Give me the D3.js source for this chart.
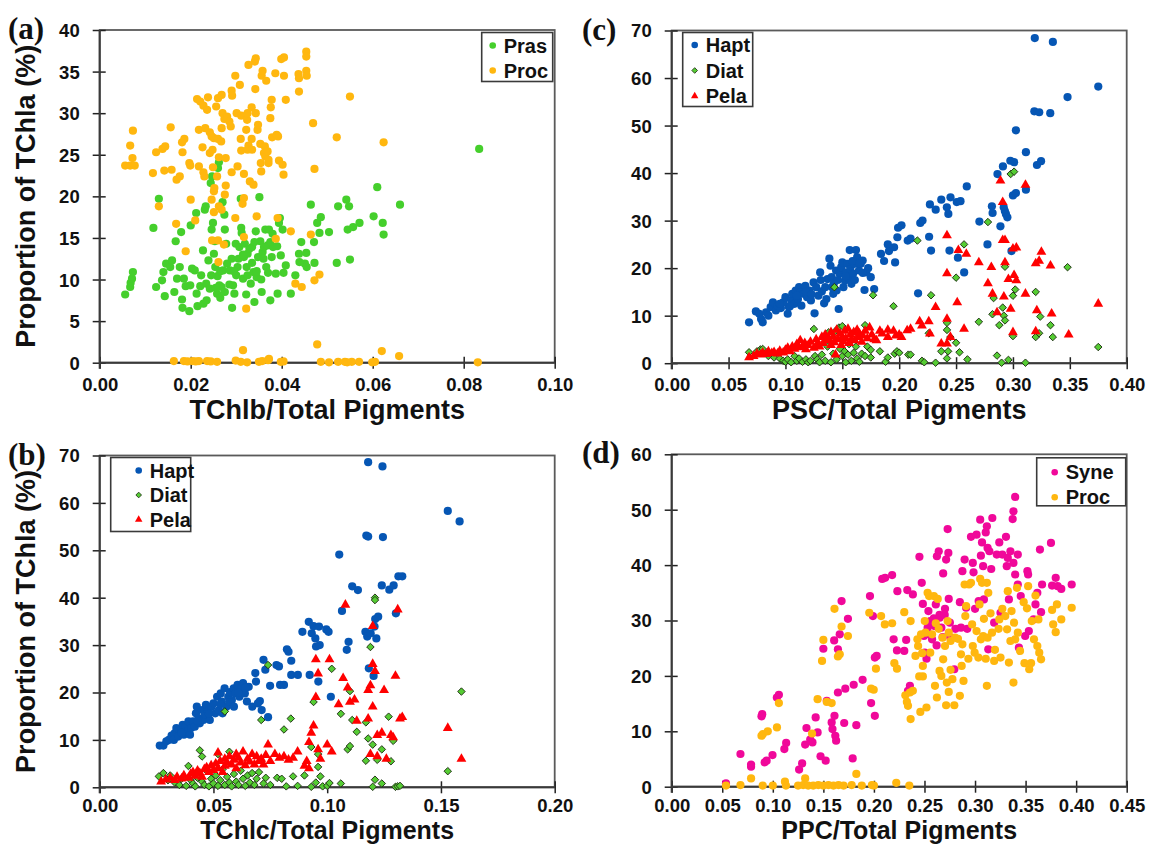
<!DOCTYPE html>
<html><head><meta charset="utf-8">
<script src="https://cdn.jsdelivr.net/npm/d3@7"></script>
<style>
body{margin:0;background:#fff;}
svg{display:block;}
text{font-family:"Liberation Sans",Arial,sans-serif;font-weight:bold;fill:#111;}
</style></head><body>
<svg id="c" width="1149" height="847"></svg>
<script>
// ---------------- DATA ----------------
// Panel (a): TChlb/Total Pigments vs Proportion of TChla (%)
const aPras = [[0.0056,8.2],[0.0067,9.1],[0.0068,9.6],[0.0071,10.1],[0.0073,10.9],[0.0118,16.2],[0.0124,9.1],[0.013,19.7],[0.0137,9.9],[0.014,10.9],[0.0143,8.0],[0.0146,11.9],[0.0155,11.5],[0.0159,12.3],[0.0164,8.5],[0.0167,14.6],[0.017,10.1],[0.0176,11.5],[0.0179,15.7],[0.0181,7.6],[0.0182,6.6],[0.0185,10.1],[0.0189,9.2],[0.0197,6.2],[0.0199,9.3],[0.02,16.5],[0.0203,11.3],[0.0209,11.1],[0.0212,18.0],[0.0213,8.3],[0.0215,6.8],[0.0221,9.2],[0.0223,10.5],[0.0227,13.5],[0.0228,7.1],[0.0231,18.4],[0.0233,18.8],[0.0234,9.5],[0.0239,12.3],[0.0242,8.9],[0.0244,21.6],[0.0247,22.4],[0.0246,16.0],[0.0249,16.8],[0.0251,13.1],[0.0253,14.6],[0.0254,11.5],[0.0258,8.3],[0.0259,10.4],[0.0262,24.1],[0.026,23.4],[0.0263,9.3],[0.0265,7.8],[0.0268,9.1],[0.027,19.3],[0.0271,11.1],[0.0274,17.8],[0.0275,16.0],[0.0278,14.3],[0.028,11.9],[0.0286,11.1],[0.029,12.5],[0.0291,6.6],[0.0293,9.3],[0.0296,8.3],[0.0299,14.3],[0.0303,11.5],[0.0307,13.9],[0.031,19.7],[0.0311,16.2],[0.0312,15.6],[0.0315,10.1],[0.0317,12.7],[0.0319,14.3],[0.0322,8.2],[0.0323,11.5],[0.0325,13.1],[0.0329,13.7],[0.0332,9.5],[0.0335,13.9],[0.0338,10.9],[0.034,7.3],[0.0343,15.8],[0.0345,10.3],[0.0348,12.7],[0.0351,19.9],[0.0353,14.6],[0.0356,8.5],[0.0358,13.3],[0.0361,13.9],[0.0364,16.0],[0.0366,11.5],[0.0369,14.1],[0.0372,16.0],[0.0375,7.5],[0.0378,12.7],[0.0381,13.9],[0.0387,10.7],[0.0391,8.3],[0.0394,16.8],[0.0396,17.4],[0.0398,12.9],[0.0402,16.0],[0.0404,10.8],[0.0409,11.7],[0.042,8.3],[0.043,10.5],[0.0438,13.1],[0.0439,12.1],[0.0443,14.5],[0.0451,11.9],[0.0454,13.2],[0.0455,11.5],[0.0464,19.0],[0.0471,14.5],[0.0472,12.0],[0.0478,16.8],[0.0486,17.5],[0.0483,15.6],[0.0504,15.7],[0.0521,12.0],[0.0524,18.8],[0.0542,19.6],[0.0545,16.0],[0.0548,18.8],[0.055,12.4],[0.0557,16.3],[0.0571,16.8],[0.0602,17.6],[0.061,21.1],[0.0622,16.8],[0.0624,15.4],[0.066,19.0],[0.0834,25.7],[0.0285,9.4],[0.0305,12.5],[0.0315,13.0],[0.0335,12.0],[0.0345,11.0],[0.0355,10.0],[0.036,12.5],[0.0375,14.5],[0.0255,9.0],[0.0275,8.5],[0.0245,10.5],[0.0235,7.5],[0.03,10.5],[0.0325,10.5],[0.034,14.5],[0.037,10.8],[0.038,15.5],[0.039,14.0],[0.0265,11.0],[0.0295,11.0]];
const aProc = [[0.0056,23.7],[0.0067,23.7],[0.0077,23.7],[0.0067,26.1],[0.0072,24.6],[0.0073,27.9],[0.0117,22.8],[0.0124,25.3],[0.013,18.8],[0.0138,25.7],[0.0144,26.0],[0.0142,23.1],[0.0158,23.2],[0.0156,28.3],[0.0169,22.0],[0.0176,22.4],[0.0168,16.7],[0.0181,26.5],[0.0186,26.9],[0.0182,25.3],[0.0189,13.4],[0.0197,24.0],[0.0199,23.7],[0.02,19.6],[0.021,17.1],[0.0214,31.7],[0.0221,31.4],[0.0228,30.9],[0.0218,28.0],[0.0226,25.9],[0.0228,22.9],[0.023,22.4],[0.0218,23.6],[0.0232,28.2],[0.0238,31.9],[0.0236,30.4],[0.0242,27.7],[0.0246,27.2],[0.0242,25.2],[0.0248,25.6],[0.0251,27.0],[0.0249,23.5],[0.0246,19.6],[0.0251,20.6],[0.0252,21.0],[0.0247,14.7],[0.0251,18.1],[0.0256,30.8],[0.026,31.8],[0.0268,32.2],[0.026,26.9],[0.0267,26.6],[0.0262,24.7],[0.0258,22.4],[0.0262,18.8],[0.0268,18.4],[0.027,30.0],[0.0274,29.3],[0.0268,28.2],[0.0277,24.6],[0.0277,21.3],[0.0275,20.2],[0.0273,14.2],[0.026,14.7],[0.0261,12.1],[0.028,29.6],[0.0285,29.0],[0.0288,28.4],[0.029,32.7],[0.0291,32.1],[0.029,22.9],[0.0298,34.5],[0.0298,17.4],[0.0303,23.6],[0.0301,30.0],[0.0308,33.4],[0.031,26.9],[0.0311,25.5],[0.0311,29.7],[0.0314,19.1],[0.0317,19.8],[0.0317,22.7],[0.0317,15.1],[0.0324,29.2],[0.0322,28.0],[0.0325,30.0],[0.0327,26.1],[0.0325,25.6],[0.0322,6.5],[0.0327,35.8],[0.0334,30.7],[0.0334,26.9],[0.033,21.8],[0.0338,21.4],[0.0335,25.6],[0.0341,36.2],[0.0343,36.6],[0.0342,32.9],[0.0343,30.0],[0.0347,28.0],[0.0348,28.6],[0.0345,17.6],[0.0354,24.0],[0.0355,23.0],[0.0356,34.5],[0.0358,35.1],[0.0353,26.3],[0.0363,26.0],[0.0361,25.2],[0.0364,24.8],[0.0366,33.9],[0.0369,25.4],[0.0371,24.0],[0.0371,24.4],[0.0375,29.4],[0.0376,30.7],[0.0378,31.6],[0.0379,27.1],[0.0386,34.8],[0.0389,27.4],[0.0387,14.9],[0.0392,27.2],[0.0391,17.4],[0.0394,24.3],[0.0399,36.5],[0.0405,36.7],[0.0405,34.5],[0.0402,23.8],[0.0404,22.6],[0.0409,31.6],[0.042,15.8],[0.043,9.5],[0.0437,34.7],[0.0438,34.2],[0.0438,32.6],[0.0444,9.1],[0.0454,37.4],[0.0454,36.8],[0.0454,35.1],[0.0455,34.5],[0.0464,15.4],[0.0469,28.8],[0.0472,23.3],[0.0472,9.9],[0.0483,10.6],[0.0521,27.1],[0.055,32.0],[0.0624,26.5],[0.0478,2.2],[0.0315,1.5],[0.062,1.4],[0.0658,0.8],[0.0372,0.45],[0.0163,0.2],[0.0185,0.2],[0.0193,0.15],[0.0204,0.2],[0.0211,0.15],[0.0218,0.2],[0.0236,0.2],[0.0244,0.15],[0.0258,0.1],[0.0299,0.25],[0.031,0.1],[0.0324,0.05],[0.035,0.1],[0.0357,0.2],[0.037,0.3],[0.0398,0.1],[0.0404,0.15],[0.0486,0.1],[0.0504,0.05],[0.0524,0.1],[0.0539,0.1],[0.0544,0.05],[0.0554,0.1],[0.057,0.1],[0.0599,0.05],[0.0605,0.1],[0.0831,0.05]];

// Panel (c): PSC/Total Pigments
const cHapt = [[0.068,8.6],[0.074,10.9],[0.077,10.4],[0.080,8.6],[0.0786,9.3],[0.083,10.7],[0.087,11.8],[0.089,12.8],[0.0916,11.1],[0.093,12.1],[0.096,11.6],[0.098,12.8],[0.100,13.9],[0.102,10.4],[0.103,11.8],[0.105,13.2],[0.106,14.6],[0.108,12.5],[0.109,15.3],[0.111,13.5],[0.112,16.0],[0.113,14.9],[0.114,12.1],[0.116,14.6],[0.1175,16.3],[0.119,13.9],[0.121,15.3],[0.1224,13.2],[0.1247,17.0],[0.1256,10.5],[0.127,16.0],[0.129,14.2],[0.1305,19.1],[0.132,15.1],[0.134,12.6],[0.135,16.0],[0.137,17.7],[0.1386,22.0],[0.1396,20.5],[0.1406,18.1],[0.142,14.6],[0.1425,16.7],[0.1445,19.5],[0.145,15.3],[0.1468,11.4],[0.1477,18.8],[0.149,20.2],[0.15,21.2],[0.151,16.0],[0.1523,17.4],[0.1532,19.1],[0.1542,20.9],[0.1555,17.8],[0.1565,23.8],[0.1571,19.8],[0.158,16.7],[0.1594,18.8],[0.1607,20.9],[0.162,23.8],[0.163,22.3],[0.1646,19.5],[0.1662,20.9],[0.1679,21.6],[0.1695,15.4],[0.171,19.1],[0.1727,20.0],[0.175,18.1],[0.178,15.6],[0.184,23.0],[0.1867,21.5],[0.19,25.0],[0.191,23.6],[0.1955,24.4],[0.1964,21.2],[0.1984,26.5],[0.199,28.5],[0.202,29.0],[0.2075,25.8],[0.21,26.2],[0.2166,14.7],[0.2185,29.5],[0.2205,30.0],[0.2263,26.6],[0.228,23.7],[0.227,33.4],[0.2321,32.3],[0.237,34.4],[0.2419,32.8],[0.2432,31.4],[0.2442,23.7],[0.2451,34.9],[0.2506,33.9],[0.2539,34.1],[0.2516,22.2],[0.2571,19.1],[0.2594,37.2],[0.2705,29.8],[0.2776,25.0],[0.2815,33.0],[0.2821,31.6],[0.2864,39.8],[0.289,28.8],[0.2912,41.4],[0.2919,32.8],[0.2929,32.0],[0.2938,31.4],[0.2951,30.7],[0.2977,42.6],[0.301,42.3],[0.2987,23.6],[0.3,35.3],[0.3026,35.8],[0.3026,49.0],[0.3114,44.4],[0.3114,36.5],[0.3188,53.0],[0.3231,52.8],[0.3211,41.7],[0.3247,42.5],[0.3328,52.6],[0.3192,68.4],[0.3351,67.6],[0.348,56.0],[0.375,58.2],[0.085,10.0],[0.095,12.5],[0.104,12.0],[0.11,14.2],[0.118,15.0],[0.123,14.5],[0.131,17.5],[0.136,13.5],[0.141,16.0],[0.146,17.5],[0.153,18.3],[0.159,21.5],[0.161,17.5],[0.165,21.0],[0.168,19.0]];
const cDiat = [[0.068,2.3],[0.075,2.5],[0.078,2.9],[0.08,3.0],[0.085,1.5],[0.09,1.2],[0.095,1.0],[0.098,0.5],[0.1,0.3],[0.102,0.8],[0.105,0.2],[0.108,1.5],[0.11,0.5],[0.112,1.0],[0.115,0.3],[0.118,0.8],[0.12,0.2],[0.122,0.5],[0.125,7.2],[0.126,1.5],[0.128,0.8],[0.13,0.2],[0.132,1.8],[0.135,0.5],[0.137,3.5],[0.138,6.5],[0.14,0.2],[0.142,2.0],[0.143,16.0],[0.144,6.8],[0.145,0.8],[0.147,7.5],[0.148,3.0],[0.15,1.5],[0.15,7.8],[0.152,2.5],[0.153,0.2],[0.155,1.8],[0.156,4.0],[0.158,0.5],[0.16,2.2],[0.162,3.5],[0.163,1.0],[0.165,0.3],[0.167,2.0],[0.17,1.5],[0.17,8.0],[0.172,3.5],[0.175,1.2],[0.175,2.8],[0.177,14.3],[0.183,2.5],[0.188,0.3],[0.19,1.2],[0.195,12.0],[0.196,2.0],[0.198,2.5],[0.2,2.2],[0.208,1.8],[0.21,1.8],[0.216,25.8],[0.22,0.5],[0.222,0.2],[0.228,14.3],[0.226,6.3],[0.232,0.1],[0.237,2.5],[0.242,8.5],[0.242,7.0],[0.242,1.0],[0.243,2.5],[0.245,5.5],[0.25,18.0],[0.25,4.3],[0.253,2.3],[0.257,25.0],[0.26,0.8],[0.27,8.7],[0.278,29.7],[0.282,10.3],[0.283,13.7],[0.286,1.6],[0.288,8.0],[0.29,0.1],[0.291,11.7],[0.292,10.0],[0.293,9.0],[0.293,20.3],[0.296,0.7],[0.298,39.8],[0.301,40.3],[0.3,14.2],[0.3,5.7],[0.302,15.5],[0.311,0.1],[0.32,15.0],[0.32,5.5],[0.323,6.3],[0.324,9.8],[0.333,8.0],[0.335,5.5],[0.348,20.2],[0.375,3.4]];
const cPela = [[0.068,1.2],[0.072,1.5],[0.075,2.0],[0.078,1.8],[0.08,2.2],[0.083,1.9],[0.085,2.5],[0.088,2.1],[0.09,2.3],[0.093,2.0],[0.095,2.6],[0.098,2.2],[0.10,2.8],[0.102,3.2],[0.104,2.5],[0.106,3.5],[0.108,3.0],[0.11,4.0],[0.112,3.3],[0.113,4.8],[0.115,3.6],[0.117,4.2],[0.118,2.9],[0.12,3.8],[0.122,4.5],[0.125,3.2],[0.127,5.0],[0.128,4.0],[0.13,3.5],[0.132,5.5],[0.133,4.2],[0.135,6.0],[0.136,4.8],[0.138,5.2],[0.14,3.8],[0.14,6.5],[0.142,5.6],[0.143,4.4],[0.144,1.8],[0.145,7.0],[0.146,5.0],[0.148,6.2],[0.149,3.8],[0.15,5.5],[0.151,4.6],[0.152,6.8],[0.153,5.2],[0.155,7.2],[0.156,4.2],[0.157,6.0],[0.158,5.0],[0.16,6.5],[0.161,4.8],[0.163,7.0],[0.164,5.5],[0.165,6.2],[0.167,4.5],[0.168,5.8],[0.17,6.8],[0.172,5.2],[0.174,7.5],[0.176,6.0],[0.178,5.0],[0.18,4.8],[0.183,6.8],[0.185,6.2],[0.19,7.0],[0.19,5.5],[0.195,6.8],[0.197,5.8],[0.2,6.0],[0.202,5.5],[0.207,6.9],[0.21,7.2],[0.218,8.8],[0.22,7.9],[0.226,8.8],[0.227,6.2],[0.232,11.8],[0.237,4.1],[0.242,4.1],[0.242,26.9],[0.242,18.9],[0.242,9.3],[0.245,5.5],[0.252,23.8],[0.251,12.8],[0.259,23.0],[0.257,7.2],[0.27,21.2],[0.278,16.8],[0.281,20.2],[0.282,14.6],[0.286,10.7],[0.289,38.4],[0.291,33.9],[0.292,14.0],[0.291,25.9],[0.293,25.9],[0.293,21.2],[0.296,17.7],[0.298,11.4],[0.3,6.5],[0.3,24.1],[0.303,24.3],[0.301,18.5],[0.303,17.4],[0.311,14.6],[0.311,37.5],[0.32,21.0],[0.32,6.7],[0.321,11.1],[0.323,21.5],[0.325,23.4],[0.333,20.5],[0.334,10.4],[0.349,6.0],[0.375,12.5]];

// Panel (b): TChlc/Total Pigments
const bHapt = [[0.0264,8.8],[0.028,8.8],[0.0293,9.7],[0.0304,10.0],[0.0316,10.9],[0.0329,11.4],[0.0326,10.0],[0.0337,12.5],[0.0345,10.7],[0.0358,12.1],[0.0365,13.2],[0.037,11.1],[0.0378,12.8],[0.0386,11.8],[0.039,13.9],[0.0397,11.1],[0.0402,12.5],[0.041,13.9],[0.0418,12.8],[0.0423,15.6],[0.0427,17.0],[0.0435,14.6],[0.044,13.5],[0.0451,16.3],[0.0456,14.2],[0.0463,15.3],[0.0467,17.4],[0.0476,16.0],[0.0484,14.2],[0.0492,17.0],[0.05,17.7],[0.0508,15.6],[0.0516,19.1],[0.0524,16.3],[0.0532,19.8],[0.0537,18.1],[0.054,15.6],[0.0549,20.9],[0.0557,17.0],[0.0565,19.1],[0.0573,20.1],[0.0581,18.4],[0.0589,20.9],[0.0597,19.8],[0.0606,21.6],[0.0614,19.1],[0.0622,20.9],[0.063,22.0],[0.0638,19.8],[0.0647,18.1],[0.0655,21.2],[0.0671,17.0],[0.0684,24.1],[0.0687,22.3],[0.0695,17.7],[0.0704,18.2],[0.0712,16.3],[0.072,26.9],[0.0728,24.8],[0.074,14.8],[0.0749,21.4],[0.0777,25.8],[0.0788,25.5],[0.0793,21.6],[0.081,21.6],[0.0823,29.1],[0.083,28.6],[0.0842,26.7],[0.0842,23.7],[0.0871,23.7],[0.0891,32.8],[0.0919,34.9],[0.0923,23.7],[0.0932,32.5],[0.094,34.0],[0.0948,31.4],[0.0951,29.7],[0.0961,22.3],[0.0964,33.9],[0.0967,30.0],[0.0996,33.3],[0.1006,32.8],[0.1016,19.1],[0.1053,49.1],[0.1065,37.2],[0.1086,29.0],[0.1094,30.7],[0.111,42.4],[0.1135,41.6],[0.1168,32.8],[0.1176,31.8],[0.1172,53.1],[0.118,52.9],[0.118,68.6],[0.1183,25.1],[0.1191,32.5],[0.1204,23.5],[0.1208,33.9],[0.1211,35.5],[0.1216,31.4],[0.1224,36.0],[0.124,42.6],[0.1245,52.8],[0.1273,41.7],[0.1292,42.6],[0.1302,36.7],[0.1313,44.5],[0.133,44.5],[0.1243,67.7],[0.153,58.3],[0.1582,56.1],[0.036,11.5],[0.043,14.0],[0.048,15.5],[0.053,17.5],[0.057,18.0],[0.061,20.0],[0.064,21.0],[0.059,17.0]];
const bDiat = [[0.026,2.3],[0.028,3.0],[0.03,1.5],[0.031,2.5],[0.033,1.0],[0.035,0.5],[0.036,1.8],[0.038,0.3],[0.039,4.5],[0.04,1.5],[0.041,0.8],[0.042,0.2],[0.043,2.0],[0.044,7.8],[0.045,1.2],[0.045,6.5],[0.046,0.5],[0.047,3.5],[0.048,0.2],[0.049,1.8],[0.05,0.8],[0.051,2.5],[0.052,7.0],[0.052,0.3],[0.053,1.5],[0.054,3.8],[0.055,16.0],[0.055,0.5],[0.056,2.2],[0.057,7.5],[0.057,1.0],[0.058,0.2],[0.059,2.8],[0.06,1.2],[0.061,0.5],[0.062,3.5],[0.063,1.8],[0.064,0.3],[0.065,2.5],[0.066,1.0],[0.067,3.0],[0.068,0.5],[0.069,1.8],[0.07,3.2],[0.071,14.2],[0.072,0.8],[0.073,2.0],[0.074,25.8],[0.075,0.5],[0.078,2.0],[0.08,1.8],[0.081,12.2],[0.082,0.2],[0.084,14.5],[0.085,2.3],[0.087,0.3],[0.09,2.5],[0.093,8.5],[0.093,0.1],[0.094,18.0],[0.095,1.0],[0.096,7.0],[0.096,4.3],[0.097,2.3],[0.098,0.2],[0.1,0.3],[0.101,0.9],[0.102,25.0],[0.106,0.8],[0.106,15.5],[0.109,8.0],[0.11,8.7],[0.11,20.3],[0.111,14.2],[0.113,11.7],[0.117,13.7],[0.117,5.6],[0.118,10.3],[0.119,29.6],[0.12,0.1],[0.121,40.0],[0.121,39.5],[0.12,9.0],[0.121,1.6],[0.122,5.8],[0.124,8.0],[0.124,0.8],[0.127,14.9],[0.128,5.5],[0.129,9.8],[0.13,0.1],[0.131,0.2],[0.132,0.3],[0.153,3.4],[0.159,20.2]];
const bPela = [[0.027,1.2],[0.029,1.6],[0.031,2.0],[0.033,1.5],[0.034,2.2],[0.036,1.8],[0.037,2.5],[0.039,2.0],[0.04,2.8],[0.041,3.2],[0.042,2.4],[0.043,3.5],[0.044,3.0],[0.045,2.2],[0.046,3.8],[0.047,4.2],[0.048,3.2],[0.049,4.6],[0.05,3.6],[0.051,5.0],[0.052,4.0],[0.052,7.3],[0.053,5.5],[0.054,3.2],[0.055,6.0],[0.055,4.5],[0.056,5.2],[0.057,6.5],[0.058,4.8],[0.059,5.8],[0.06,7.0],[0.06,4.0],[0.061,6.2],[0.062,5.2],[0.063,7.5],[0.064,4.6],[0.065,6.0],[0.066,5.4],[0.067,7.0],[0.068,4.8],[0.069,6.5],[0.07,5.5],[0.071,6.0],[0.072,4.8],[0.073,6.8],[0.074,9.0],[0.075,5.5],[0.077,7.0],[0.079,6.2],[0.081,6.5],[0.083,5.8],[0.085,6.2],[0.087,7.5],[0.09,4.5],[0.091,5.5],[0.092,4.0],[0.092,9.5],[0.093,11.5],[0.094,13.0],[0.095,19.0],[0.095,27.0],[0.096,8.0],[0.096,24.0],[0.097,6.0],[0.1,9.0],[0.101,27.0],[0.102,7.5],[0.105,17.5],[0.107,23.0],[0.108,38.5],[0.109,21.0],[0.11,18.0],[0.112,18.5],[0.113,14.0],[0.118,14.5],[0.118,20.5],[0.119,21.5],[0.119,7.0],[0.12,17.0],[0.12,34.0],[0.12,26.0],[0.121,24.5],[0.122,11.0],[0.122,6.5],[0.124,11.5],[0.125,20.5],[0.126,6.0],[0.128,11.0],[0.129,10.5],[0.13,23.5],[0.131,37.5],[0.132,14.5],[0.133,14.8],[0.153,12.5],[0.159,6.0]];

// Panel (d): PPC/Total Pigments
const dSyne = [[0.0537,0.6],[0.068,5.9],[0.0785,3.6],[0.0785,4.0],[0.0888,12.7],[0.0895,13.1],[0.092,4.4],[0.0939,4.7],[0.0997,5.7],[0.104,16.1],[0.106,16.6],[0.1114,6.8],[0.1132,7.9],[0.126,3.1],[0.129,4.2],[0.132,7.6],[0.1333,10.6],[0.137,8.5],[0.1392,8.0],[0.1424,12.5],[0.1443,9.8],[0.1472,5.5],[0.15,24.9],[0.1523,4.7],[0.1534,15.5],[0.1582,11.6],[0.159,10.4],[0.161,12.8],[0.1618,9.2],[0.1626,8.3],[0.1607,26.4],[0.1644,17.0],[0.1644,24.8],[0.1662,27.5],[0.168,33.5],[0.1706,11.5],[0.1717,17.7],[0.1743,30.3],[0.179,5.1],[0.18,18.4],[0.1826,11.1],[0.1888,19.3],[0.1961,34.4],[0.1972,15.1],[0.199,30.8],[0.2009,23.3],[0.2009,12.8],[0.2027,23.6],[0.2082,37.5],[0.2111,37.7],[0.218,38.2],[0.2195,26.6],[0.2228,24.6],[0.2232,35.3],[0.23,24.5],[0.2319,26.5],[0.233,35.5],[0.2337,17.3],[0.2356,18.2],[0.2385,34.7],[0.245,41.5],[0.2473,36.8],[0.2484,33.0],[0.2495,27.2],[0.2502,24.2],[0.252,23.1],[0.2531,28.7],[0.2539,31.7],[0.2557,29.9],[0.2575,26.6],[0.2593,30.4],[0.2612,32.9],[0.2623,41.6],[0.2641,42.5],[0.2649,31.0],[0.2667,28.7],[0.2685,38.5],[0.2703,32.1],[0.2714,41.0],[0.2729,46.5],[0.2736,42.2],[0.274,33.9],[0.2751,29.6],[0.2758,26.9],[0.2795,21.2],[0.2806,28.5],[0.285,33.3],[0.2861,28.7],[0.2875,38.9],[0.2897,41.0],[0.2912,32.3],[0.2923,28.5],[0.296,45.1],[0.2978,40.4],[0.2985,38.7],[0.3,32.1],[0.3015,45.5],[0.3036,33.5],[0.3051,48.2],[0.3058,41.7],[0.3069,44.1],[0.308,39.8],[0.3088,33.8],[0.3106,45.9],[0.3117,47.0],[0.3124,43.1],[0.3131,24.8],[0.3142,42.5],[0.316,39.3],[0.3171,48.5],[0.3189,29.6],[0.3215,41.9],[0.324,44.1],[0.3252,31.4],[0.327,41.9],[0.3306,45.1],[0.3314,39.8],[0.3324,41.3],[0.3335,33.8],[0.335,42.5],[0.3372,48.3],[0.338,49.7],[0.3397,52.3],[0.338,40.4],[0.3397,38.3],[0.3423,36.5],[0.3423,41.9],[0.3434,25.1],[0.3452,34.4],[0.3496,27.2],[0.3518,38.9],[0.3525,38.3],[0.3532,28.1],[0.3579,30.2],[0.3598,32.9],[0.3616,35.0],[0.3642,42.8],[0.3653,31.5],[0.3663,36.5],[0.3751,44.0],[0.3762,36.3],[0.3798,37.7],[0.3817,36.2],[0.3853,35.7],[0.3956,36.5],[0.255,27.5],[0.26,29.0],[0.265,30.5],[0.268,27.0],[0.262,25.5],[0.27,31.0]];
const dProc = [[0.0537,0.2],[0.068,0.3],[0.0785,1.5],[0.09,0.2],[0.1,0.2],[0.112,0.9],[0.113,0.2],[0.125,0.2],[0.13,0.3],[0.132,1.5],[0.135,0.2],[0.14,0.2],[0.145,0.3],[0.15,0.2],[0.155,0.3],[0.16,0.2],[0.165,0.3],[0.17,0.2],[0.178,0.3],[0.188,0.2],[0.198,0.3],[0.2,0.2],[0.2221,0.7],[0.235,0.2],[0.1826,2.3],[0.0888,9.2],[0.0902,9.5],[0.095,10.0],[0.1041,10.7],[0.106,15.1],[0.1388,9.6],[0.1443,15.8],[0.1487,22.7],[0.15,26.5],[0.1534,15.3],[0.1582,15.1],[0.161,32.1],[0.1644,23.5],[0.1662,23.9],[0.168,28.9],[0.1743,27.2],[0.1954,31.4],[0.1972,17.7],[0.1998,17.5],[0.202,21.3],[0.2071,30.8],[0.2108,29.3],[0.218,29.5],[0.2202,22.3],[0.2228,21.3],[0.23,31.5],[0.2311,16.5],[0.2326,15.3],[0.2337,14.6],[0.2356,17.0],[0.2363,12.2],[0.2363,29.9],[0.2385,17.3],[0.2411,23.6],[0.243,26.6],[0.2437,25.4],[0.2448,19.9],[0.2459,13.5],[0.2466,27.5],[0.2477,24.1],[0.2484,21.8],[0.2484,19.9],[0.2503,29.9],[0.251,27.8],[0.252,14.3],[0.2531,35.0],[0.2546,34.4],[0.2557,24.2],[0.2575,27.5],[0.2593,34.4],[0.2604,18.2],[0.2612,29.5],[0.2623,16.1],[0.2631,33.9],[0.2641,28.5],[0.2649,20.9],[0.2667,20.0],[0.2678,26.9],[0.2685,23.0],[0.2703,25.4],[0.2714,14.7],[0.2721,18.8],[0.2729,29.9],[0.274,17.1],[0.274,27.8],[0.2758,26.3],[0.2758,21.1],[0.2776,19.4],[0.2795,14.7],[0.2802,26.9],[0.2831,26.7],[0.285,16.4],[0.2861,23.9],[0.2868,21.8],[0.2875,25.7],[0.2886,19.1],[0.2897,36.5],[0.2904,30.8],[0.2912,32.6],[0.2934,23.1],[0.2941,36.5],[0.296,36.8],[0.2971,29.3],[0.2978,25.4],[0.2996,24.2],[0.3015,28.1],[0.3033,23.3],[0.3044,32.9],[0.3051,37.5],[0.3058,26.6],[0.3069,36.8],[0.308,27.2],[0.3088,30.3],[0.3106,23.1],[0.3117,36.8],[0.3117,18.2],[0.3124,26.9],[0.3131,35.0],[0.3153,31.3],[0.3168,27.8],[0.3189,22.7],[0.3197,24.7],[0.3233,28.5],[0.324,30.2],[0.3252,23.3],[0.327,32.1],[0.3299,30.8],[0.3317,28.4],[0.3324,35.3],[0.3335,22.4],[0.335,26.3],[0.3361,31.7],[0.338,18.8],[0.3386,29.6],[0.3397,26.6],[0.3415,35.9],[0.3423,27.8],[0.3445,24.5],[0.3481,33.3],[0.3489,22.3],[0.3514,32.2],[0.3525,36.2],[0.3536,21.2],[0.3554,22.3],[0.3561,29.9],[0.3583,26.6],[0.3598,34.5],[0.3616,25.4],[0.3627,30.2],[0.3635,24.2],[0.3653,23.0],[0.3762,31.9],[0.3773,29.3],[0.3798,27.9],[0.381,32.9],[0.3853,30.2],[0.3956,32.3]];

// Axis tick values
const aXTicks = [0, 0.02, 0.04, 0.06, 0.08, 0.10];
const aYTicks = [0, 5, 10, 15, 20, 25, 30, 35, 40];
const cXTicks = [0, 0.05, 0.10, 0.15, 0.20, 0.25, 0.30, 0.35, 0.40];
const cYTicks = [0, 10, 20, 30, 40, 50, 60, 70];
const bXTicks = [0, 0.05, 0.10, 0.15, 0.20];
const bYTicks = [0, 10, 20, 30, 40, 50, 60, 70];
const dXTicks = [0, 0.05, 0.10, 0.15, 0.20, 0.25, 0.30, 0.35, 0.40, 0.45];
const dYTicks = [0, 10, 20, 30, 40, 50, 60];

// ---------------- DRAWING ----------------
const COL = {pras:"#45cf2c", proc:"#ffb70f", hapt:"#0656b4", diat:"#55cc33", pela:"#ff0000", syne:"#f0089a"};
const svg = d3.select("#c");
const W = 455;

function symbolPath(type, size){
  return d3.symbol().type(type).size(size)();
}

function panel(o){
  const g = svg.append("g").attr("transform", `translate(${o.left},${o.top})`);
  const H = o.height;
  const x = d3.scaleLinear().domain([0, o.xmax]).range([0, W]);
  const y = d3.scaleLinear().domain([0, o.ymax]).range([H, 0]);

  // frame (top/right)
  g.append("rect").attr("x",0).attr("y",0).attr("width",W).attr("height",H)
    .attr("fill","none").attr("stroke","#5a5a5a").attr("stroke-width",1.8);

  // axes
  const xa = g.append("g").attr("transform",`translate(0,${H})`)
    .call(d3.axisBottom(x).tickValues(o.xTicks).tickFormat(d3.format(".2f")).tickSize(6).tickPadding(0));
  xa.selectAll(".tick line").attr("y1",-6).attr("y2",6).attr("stroke","#222").attr("stroke-width",1.5);
  xa.selectAll(".tick text").attr("y",o.tickY).attr("dy",null).style("font-size","18.5px").style("fill","#111");

  const ya = g.append("g")
    .call(d3.axisLeft(y).tickValues(o.yTicks).tickFormat(d3.format("d")).tickSize(6).tickPadding(0));
  ya.selectAll(".tick line").attr("x1",-7).attr("x2",6).attr("stroke","#222").attr("stroke-width",1.5);
  ya.selectAll(".tick text").attr("x",-20).attr("dy","0.35em").style("font-size","18.5px").style("fill","#111");
  g.selectAll(".domain").remove();
  // axis lines
  g.append("line").attr("x1",0).attr("x2",0).attr("y1",0).attr("y2",H+6).attr("stroke","#3a3a3a").attr("stroke-width",2);
  g.append("line").attr("x1",0).attr("x2",W).attr("y1",H).attr("y2",H).attr("stroke","#3a3a3a").attr("stroke-width",2);

  // series
  o.series.forEach(s => {
    const sg = g.append("g");
    if (s.shape === "circle") {
      sg.selectAll("circle").data(s.data).join("circle")
        .attr("cx", d => x(d[0])).attr("cy", d => y(d[1])).attr("r", 4.1)
        .attr("fill", s.color);
    } else if (s.shape === "diamond") {
      sg.selectAll("path").data(s.data).join("path")
        .attr("transform", d => `translate(${x(d[0])},${y(d[1])}) rotate(45)`)
        .attr("d", symbolPath(d3.symbolSquare, 28))
        .attr("fill", s.color).attr("stroke","#1f2f14").attr("stroke-width",0.9);
    } else {
      sg.selectAll("path").data(s.data).join("path")
        .attr("transform", d => `translate(${x(d[0])},${y(d[1])})`)
        .attr("d", symbolPath(d3.symbolTriangle, 42))
        .attr("fill", s.color);
    }
  });

  // axis titles
  g.append("text").attr("x", W/2).attr("y", H + o.titleY).attr("text-anchor","middle")
    .style("font-size", o.titleSize + "px").text(o.xTitle);
  if (o.yTitle) {
    g.append("text").attr("transform", `translate(${35 - o.left},${H/2}) rotate(-90)`)
      .attr("text-anchor","middle").style("font-size","27px").text(o.yTitle);
  }
  // panel label
  svg.append("text").attr("x", o.labelX).attr("y", o.top + 9)
    .style("font-family","'Liberation Serif','Times New Roman',serif").style("font-size","31px")
    .style("font-weight","bold").text(o.label);

  // legend
  const L = o.legend;
  const lg = g.append("g").attr("transform",`translate(${L.x},${L.y})`);
  lg.append("rect").attr("width",L.w).attr("height",L.h).attr("fill","#fff")
    .attr("stroke","#3a3a3a").attr("stroke-width",1.6);
  o.series.forEach((s,i) => {
    const cy = L.row0 + i*L.dy;
    if (s.shape === "circle") {
      lg.append("circle").attr("cx",L.mx).attr("cy",cy).attr("r",3.3).attr("fill",s.color);
    } else if (s.shape === "diamond") {
      lg.append("path").attr("transform",`translate(${L.mx},${cy}) rotate(45)`)
        .attr("d", symbolPath(d3.symbolSquare, 16)).attr("fill",s.color).attr("stroke","#1f2f14").attr("stroke-width",0.8);
    } else {
      lg.append("path").attr("transform",`translate(${L.mx},${cy})`)
        .attr("d", symbolPath(d3.symbolTriangle, 24)).attr("fill",s.color);
    }
    lg.append("text").attr("x",L.tx).attr("y",cy).attr("dy","0.36em")
      .style("font-size","20px").text(s.name);
  });
}

panel({left:99.7, top:30, height:332.7, xmax:0.10, ymax:40, xTicks:aXTicks, yTicks:aYTicks,
  tickY:28, titleY:56, titleSize:27,
  xTitle:"TChlb/Total Pigments", yTitle:"Proportion of TChla (%)", label:"(a)", labelX:8,
  series:[{name:"Pras",shape:"circle",color:COL.pras,data:aPras},{name:"Proc",shape:"circle",color:COL.proc,data:aProc}],
  legend:{x:382,y:2.5,w:71,h:49,mx:11,tx:22,row0:13,dy:25}});

panel({left:671.7, top:30.5, height:332.7, xmax:0.40, ymax:70, xTicks:cXTicks, yTicks:cYTicks,
  tickY:28, titleY:56, titleSize:27,
  xTitle:"PSC/Total Pigments", yTitle:null, label:"(c)", labelX:582,
  series:[{name:"Hapt",shape:"circle",color:COL.hapt,data:cHapt},{name:"Diat",shape:"diamond",color:COL.diat,data:cDiat},{name:"Pela",shape:"triangle",color:COL.pela,data:cPela}],
  legend:{x:11,y:2,w:70,h:74,mx:12,tx:23,row0:12.5,dy:25.5}});

panel({left:99.7, top:455.5, height:331.8, xmax:0.20, ymax:70, xTicks:bXTicks, yTicks:bYTicks,
  tickY:25, titleY:52, titleSize:25,
  xTitle:"TChlc/Total Pigments", yTitle:"Proportion of TChla (%)", label:"(b)", labelX:8,
  series:[{name:"Hapt",shape:"circle",color:COL.hapt,data:bHapt},{name:"Diat",shape:"diamond",color:COL.diat,data:bDiat},{name:"Pela",shape:"triangle",color:COL.pela,data:bPela}],
  legend:{x:11,y:2,w:80,h:74,mx:28,tx:39,row0:13,dy:24.5}});

panel({left:671.7, top:454.3, height:332.4, xmax:0.45, ymax:60, xTicks:dXTicks, yTicks:dYTicks,
  tickY:25, titleY:52, titleSize:25,
  xTitle:"PPC/Total Pigments", yTitle:null, label:"(d)", labelX:582,
  series:[{name:"Syne",shape:"circle",color:COL.syne,data:dSyne},{name:"Proc",shape:"circle",color:COL.proc,data:dProc}],
  legend:{x:365,y:3.5,w:89,h:48,mx:18,tx:29,row0:14.5,dy:25}});
</script>
</body></html>
